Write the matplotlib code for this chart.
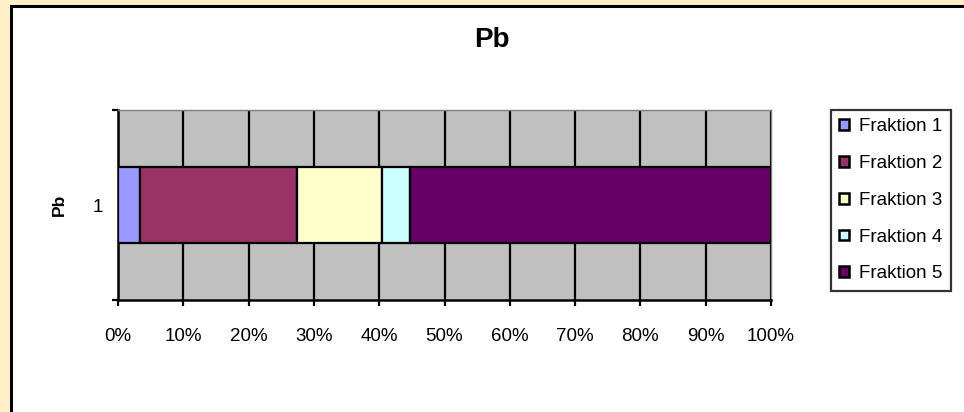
import matplotlib.pyplot as plt
from matplotlib.patches import Rectangle
from matplotlib.ticker import PercentFormatter, MultipleLocator

# share of each fraction (percent)
categories = ["1"]
fractions = ["Fraktion 1", "Fraktion 2", "Fraktion 3", "Fraktion 4", "Fraktion 5"]
shares = [3.3, 24.1, 13.1, 4.2, 55.3]
colors = ["#9999FF", "#993366", "#FFFFCC", "#CCFFFF", "#660066"]


def main():
    plt.rcParams['font.family'] = ['Liberation Sans', 'DejaVu Sans']

    fig = plt.figure(figsize=(9.64, 4.12), dpi=100, facecolor="#FFF0C8")

    # white chart area with black frame running off the right/bottom edge
    fig.patches.append(Rectangle((11 / 964, -0.05), 1.0, 1 - 5.5 / 412 + 0.05,
                                 transform=fig.transFigure, facecolor="white",
                                 edgecolor="black", linewidth=2.2, zorder=-5))

    ax = fig.add_axes([118 / 964, 1 - 300 / 412, (771 - 118) / 964, 190 / 412])
    ax.set_zorder(2)
    ax.set_facecolor("#C0C0C0")

    left = 0
    for name, val, col in zip(fractions, shares, colors):
        ax.barh(categories, [val], left=left, height=0.4, color=col,
                edgecolor="black", linewidth=1.6, label=name, zorder=3)
        left += val

    ax.set_xlim(0, 100)
    ax.set_ylim(-0.5, 0.5)
    ax.xaxis.set_major_locator(MultipleLocator(10))
    ax.xaxis.set_major_formatter(PercentFormatter(decimals=0))
    ax.grid(axis="x", color="black", linewidth=1.6, zorder=1)
    ax.set_axisbelow(True)

    # category axis: ticks sit between categories
    ax.set_yticks([0])
    ax.set_yticklabels(categories)
    ax.set_yticks([-0.5, 0.5], minor=True)
    ax.tick_params(axis="y", which="major", length=0, pad=11, labelsize=13.5)
    ax.tick_params(axis="y", which="minor", length=4, width=1.6)
    ax.tick_params(axis="x", length=4, width=1.6, pad=16.5, labelsize=13.5)

    for side in ["top", "right"]:
        ax.spines[side].set_color("#808080")
        ax.spines[side].set_linewidth(1)
    for side in ["left", "bottom"]:
        ax.spines[side].set_linewidth(1.8)

    ax.set_ylabel("Pb", fontsize=12.5, fontweight="bold", labelpad=18)
    fig.text(492 / 964, 1 - 40 / 412, "Pb", fontsize=20, fontweight="bold",
             ha="center", va="center")

    leg = ax.legend(loc="upper left", bbox_to_anchor=(831 / 964, 1 - 110 / 412),
                    bbox_transform=fig.transFigure, frameon=True, fancybox=False,
                    edgecolor="black", fontsize=13.5, handlelength=0.5,
                    handleheight=0.5, handletextpad=0.55, labelspacing=1.05,
                    borderpad=0.45, borderaxespad=0)
    leg.get_frame().set_linewidth(1.6)
    for h in leg.legend_handles:
        h.set_linewidth(1.8)

    fig.savefig("out.png", dpi=100, facecolor=fig.get_facecolor())


if __name__ == "__main__":
    main()
